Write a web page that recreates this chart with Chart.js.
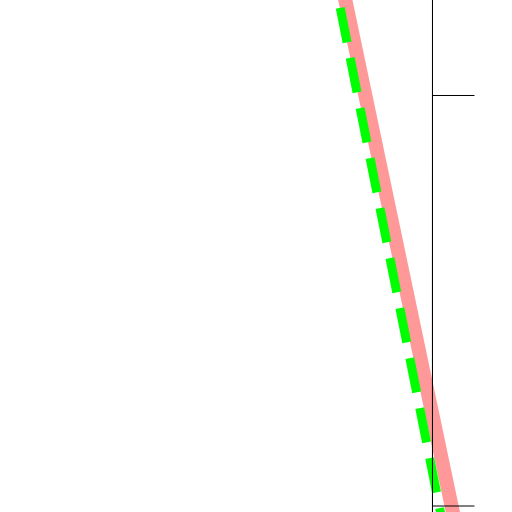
<!DOCTYPE html>
<html>
<head>
<meta charset="utf-8">
<script src="https://cdn.jsdelivr.net/npm/chart.js@4/dist/chart.umd.min.js"></script>
<style>
  html, body { margin: 0; padding: 0; background: #fff; }
  canvas { display: block; }
</style>
</head>
<body>
<canvas id="grafico" width="512" height="512"></canvas>
<script>
// series (data units, y axis sits at x = 0)
const pinkX = [-0.216, 0.057];
const pinkY = [1.25, -0.05];
const greenX = [-0.232, 0.0263];
const greenY = [1.25, -0.05];

// axis line and its tick marks
const axisX = [0, 0];
const axisY = [1.25, -0.05];
const yTicks = [0, 1];
const tickLen = 0.1023;

// visible window
const xRange = [-1.0536, 0.1937];
const yRange = [-0.0146, 1.2326];

const pts = (xs, ys) => xs.map((x, i) => ({ x: x, y: ys[i] }));

document.addEventListener("DOMContentLoaded", () => {
    const tickSets = yTicks.map(t => ({
        data: pts([0, tickLen], [t, t]),
        borderColor: "#000",
        borderWidth: 1,
        pointRadius: 0
    }));

    new Chart(document.getElementById("grafico").getContext("2d"), {
        type: "line",
        data: {
            datasets: [
                {
                    data: pts(axisX, axisY),
                    borderColor: "#000",
                    borderWidth: 1,
                    pointRadius: 0
                },
                ...tickSets,
                {
                    data: pts(greenX, greenY),
                    borderColor: "#00ff00",
                    borderWidth: 9,
                    borderDash: [35, 16],
                    borderDashOffset: 35.6,
                    borderCapStyle: "butt",
                    pointRadius: 0
                },
                {
                    data: pts(pinkX, pinkY),
                    borderColor: "#ff9999",
                    borderWidth: 14,
                    borderCapStyle: "butt",
                    pointRadius: 0
                }
            ]
        },
        options: {
            responsive: false,
            animation: false,
            layout: { padding: 0 },
            plugins: {
                legend: { display: false },
                tooltip: { enabled: false }
            },
            scales: {
                x: { type: "linear", min: xRange[0], max: xRange[1], display: false },
                y: { type: "linear", min: yRange[0], max: yRange[1], display: false }
            }
        }
    });
});
</script>
</body>
</html>
